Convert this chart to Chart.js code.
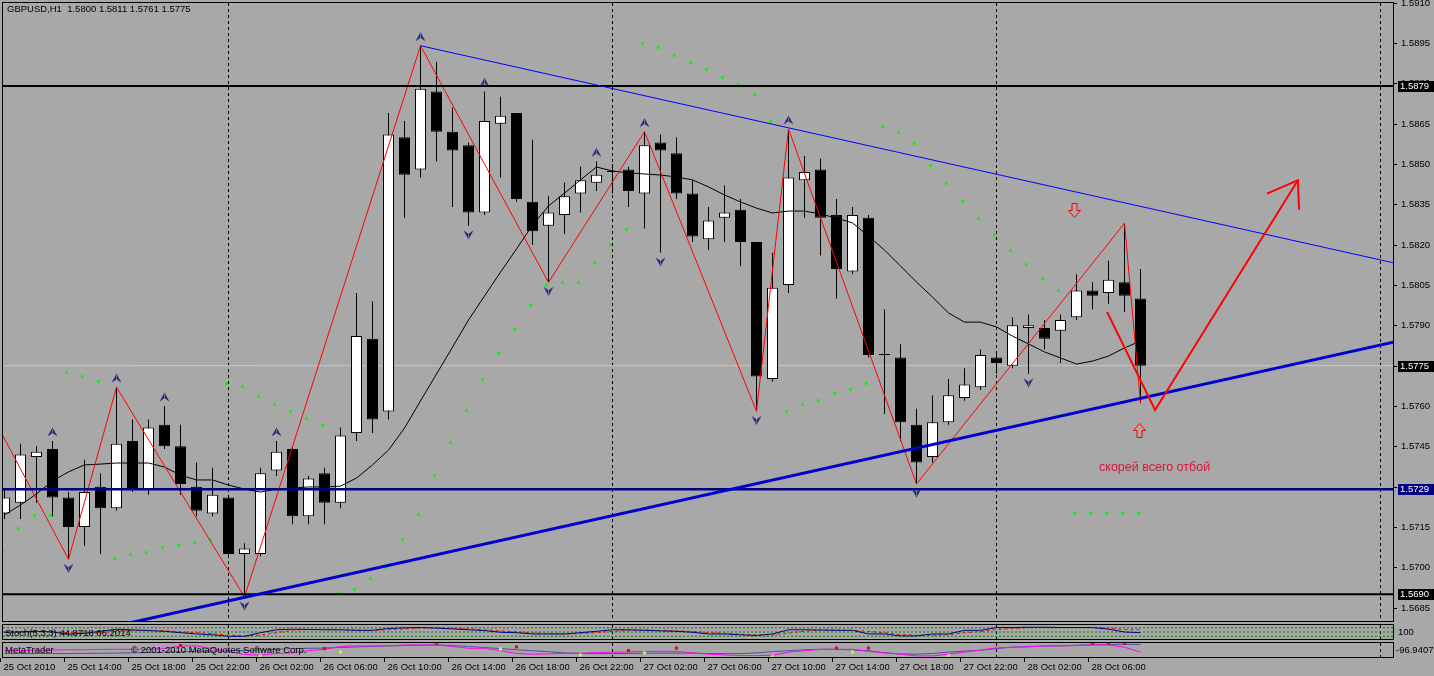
<!DOCTYPE html>
<html lang="ru"><head><meta charset="utf-8"><title>GBPUSD,H1</title>
<script src="https://cdn.jsdelivr.net/npm/chart.js@4.4.1/dist/chart.umd.min.js"></script>
<style>
html,body{margin:0;padding:0;background:#a8a8a8;width:1434px;height:676px;overflow:hidden}
#wrap{position:relative;width:1434px;height:676px;background:#a8a8a8}
canvas{position:absolute;left:0;display:block}
</style></head><body><div id="wrap">
<canvas id="cMain" width="1434" height="623" style="top:0px"></canvas>
<canvas id="cStoch" width="1434" height="18" style="top:623px"></canvas>
<canvas id="cOsc" width="1434" height="35" style="top:641px"></canvas>
</div>
<script>
// ---------------- DATA ----------------
const symbolLabel = 'GBPUSD,H1';
const openP = [1.5720,1.5724,1.5741,1.5744,1.5726,1.5715,1.5730,1.5722,1.5747,1.5729,
 1.5753,1.5745,1.5730,1.5720,1.5726,1.5705,1.5705,1.5736,1.5744,1.5719,
 1.5735,1.5724,1.5750,1.5785,1.5758,1.5860,1.5848,1.5877,1.5862,1.5857,
 1.5832,1.5865,1.5869,1.5836,1.5827,1.5831,1.5839,1.5843,1.5847,1.5848,
 1.5839,1.5858,1.5854,1.5839,1.5822,1.5830,1.5833,1.5821,1.5770,1.5805,
 1.5844,1.5848,1.5831,1.5810,1.5830,1.5779,1.5778,1.5753,1.5741,1.5754,
 1.5763,1.5767,1.5778,1.5775,1.5789,1.5789,1.5788,1.5793,1.5803,1.5802,
 1.5806,1.5800];
const highP = [1.5729,1.5746,1.5745,1.5747,1.5728,1.5740,1.5735,1.5767,1.5755,1.5755,
 1.5760,1.5753,1.5739,1.5737,1.5727,1.5709,1.5737,1.5747,1.5745,1.5734,
 1.5737,1.5752,1.5802,1.5799,1.5869,1.5866,1.5894,1.5888,1.5871,1.5858,
 1.5877,1.5875,1.5869,1.5859,1.5838,1.5843,1.5849,1.5851,1.5850,1.5849,
 1.5862,1.5861,1.5860,1.5844,1.5834,1.5842,1.5837,1.5821,1.5817,1.5863,
 1.5853,1.5852,1.5837,1.5834,1.5831,1.5796,1.5783,1.5759,1.5764,1.5770,
 1.5774,1.5781,1.5780,1.5793,1.5794,1.5792,1.5794,1.5809,1.5806,1.5814,
 1.5828,1.5811];
const lowP = [1.5718,1.5718,1.5724,1.5719,1.5703,1.5708,1.5705,1.5721,1.5728,1.5727,
 1.5744,1.5727,1.5719,1.5719,1.5704,1.5689,1.5704,1.5734,1.5716,1.5716,
 1.5716,1.5722,1.5747,1.5750,1.5755,1.5830,1.5845,1.5851,1.5834,1.5827,
 1.5831,1.5845,1.5836,1.5820,1.5806,1.5824,1.5832,1.5840,1.5839,1.5834,
 1.5826,1.5817,1.5837,1.5821,1.5818,1.5821,1.5812,1.5758,1.5769,1.5802,
 1.5830,1.5816,1.5800,1.5809,1.5778,1.5757,1.5747,1.5731,1.5739,1.5753,
 1.5762,1.5766,1.5772,1.5774,1.5772,1.5781,1.5776,1.5792,1.5796,1.5798,
 1.5795,1.5761];
const closeP = [1.5726,1.5742,1.5743,1.5726,1.5715,1.5728,1.5722,1.5746,1.5729,1.5752,
 1.5745,1.5731,1.5721,1.5727,1.5705,1.5707,1.5735,1.5743,1.5719,1.5733,
 1.5724,1.5749,1.5786,1.5755,1.5861,1.5846,1.5878,1.5862,1.5855,1.5832,
 1.5866,1.5868,1.5837,1.5825,1.5832,1.5838,1.5844,1.5846,1.5847,1.5840,
 1.5857,1.5855,1.5839,1.5823,1.5829,1.5832,1.5821,1.5771,1.5804,1.5845,
 1.5847,1.5830,1.5811,1.5831,1.5779,1.5779,1.5754,1.5739,1.5754,1.5764,
 1.5768,1.5779,1.5776,1.5790,1.5790,1.5785,1.5792,1.5803,1.5801,1.5807,
 1.5801,1.5775];
const maVals = [1.57195,1.57232,1.57273,1.57321,1.57355,1.57381,1.57384,1.57388,1.57388,1.57388,
 1.57373,1.57343,1.57325,1.57325,1.57306,1.57291,1.57280,1.57291,1.57295,1.57299,
 1.57299,1.57302,1.57332,1.57381,1.57436,1.57518,1.57619,1.57719,1.57819,1.57920,
 1.58009,1.58098,1.58184,1.58273,1.58344,1.58392,1.58441,1.58489,1.58474,1.58467,
 1.58463,1.58459,1.58452,1.58441,1.58415,1.58385,1.58359,1.58336,1.58318,1.58325,
 1.58325,1.58314,1.58299,1.58281,1.58232,1.58180,1.58121,1.58061,1.58005,1.57946,
 1.57912,1.57912,1.57894,1.57860,1.57831,1.57801,1.57779,1.57756,1.57767,1.57786,
 1.57816,1.57842];
const sarVals = [1.57064,1.57146,1.57191,1.57191,1.57723,1.57708,1.57693,1.57031,1.57046,1.57057,
 1.57072,1.57083,1.57094,1.57105,1.57682,1.57671,1.57637,1.57607,1.57581,1.57555,
 1.57529,1.56901,1.56916,1.56960,1.57001,1.57102,1.57198,1.57340,1.57466,1.57585,
 1.57697,1.57797,1.57886,1.57972,1.58050,1.58061,1.58061,1.58132,1.58199,1.58258,
 1.58950,1.58935,1.58905,1.58876,1.58850,1.58820,1.58794,1.58757,1.58660,1.57581,
 1.57604,1.57622,1.57645,1.57663,1.57682,1.58641,1.58619,1.58575,1.58496,1.58426,
 1.58359,1.58296,1.58236,1.58180,1.58128,1.58076,1.58031,1.57202,1.57202,1.57202,
 1.57202,1.57202];
const zzIdx   = [-1, 4, 7, 15, 26, 34, 40, 47, 49, 57, 70, 71];
const zzPrice = [1.5759,1.5703,1.5767,1.5689,1.5894,1.5806,1.5862,1.5758,1.5863,1.5731,1.5828,1.5761];
const fracUpIdx = [3, 7, 10, 17, 26, 30, 37, 40, 49];
const fracDnIdx = [4, 15, 29, 34, 41, 47, 57, 64];
const hLevels = [1.5879, 1.5729, 1.5690];
const hColors = ['#000000', '#000080', '#000000'];
const bidPrice = 1.5775;
const trendThinX = [26, 87],  trendThinY = [1.5894, 1.5813];
const trendThickX = [0, 87],  trendThickY = [1.5669, 1.5784];
const fcX = [68.91, 71.91, 80.84], fcY = [1.5795, 1.57585, 1.5844];
const headX = [78.91, 80.84, 80.91], headY = [1.5839, 1.5844, 1.5833];
const markDown = {x: 66.84, y: 1.5833};
const markUp   = {x: 70.91, y: 1.5751};
const noteText = 'скорей всего отбой';
const notePos  = {x: 71.88, y: 1.5737};
const priceTicks = [1.5910,1.5895,1.5880,1.5865,1.5850,1.5835,1.5820,1.5805,1.5790,1.5775,1.5760,1.5745,1.5730,1.5715,1.5700,1.5685];
const daySepIdx = [14, 38, 62, 86];
const timeIdx = [0,4,8,12,16,20,24,28,32,36,40,44,48,52,56,60,64,68];
const timeLabels = ['25 Oct 2010','25 Oct 14:00','25 Oct 18:00','25 Oct 22:00','26 Oct 02:00','26 Oct 06:00',
 '26 Oct 10:00','26 Oct 14:00','26 Oct 18:00','26 Oct 22:00','27 Oct 02:00','27 Oct 06:00','27 Oct 10:00',
 '27 Oct 14:00','27 Oct 18:00','27 Oct 22:00','28 Oct 02:00','28 Oct 06:00'];
const stochMain = [48,50,55,50,35,40,55,70,65,60,55,45,36,30,19,19,45,66,70,68,66,66,62,62,75,80,82,78,72,66,
 60,48,45,36,36,36,45,55,66,66,62,58,55,48,36,36,30,25,36,66,66,64,62,62,36,36,22,22,36,36,62,62,82,82,84,84,
 82,82,82,70,50,44.8718];
const stochSignal = [50,49,52,52,45,42,45,55,62,62,60,52,45,38,28,22,28,45,62,68,68,66,64,62,66,72,79,80,77,72,
 66,58,51,43,39,36,39,45,55,62,64,62,58,54,46,40,34,30,30,42,56,65,64,62,54,45,32,27,27,31,45,53,68,75,82,83,
 83,82,82,78,67,66.2014];
const stochLevels = [80, 50, 20];
const oscA = [45,45,48,50,52,52,54,55,55,55,60,79,79,60,40,18,14,25,30,45,55,75,79,79,80,86,86,86,75,62,
 62,45,25,20,22,27,27,32,34,36,40,41,40,30,20,15,10,10,12,35,45,55,55,55,40,30,20,8,8,20,35,50,65,70,72,79,
 79,82,86,86,70,35];
const oscB = [25,25,25,25,25,26,27,28,30,32,35,38,40,42,44,46,50,55,60,62,64,68,72,76,79,82,84,86,82,75,
 68,60,52,45,38,30,25,24,24,25,27,28,28,27,25,24,24,30,38,45,52,55,55,50,45,30,22,20,25,35,42,48,60,70,75,78,
 80,84,88,90,90,90];
const oscRedIdx = [11,20,27,32,39,42,52,54,68,69,70];
const oscRedVal = [82,60,98,72,46,64,64,64,98,98,98];
const oscGreenIdx = [16,21,31,36,40,48,53,59];
const oscGreenVal = [7,36,57,14,29,2,36,7];

// ---------------- LAYOUT CONSTANTS ----------------
const X_MIN = -0.09375, X_MAX = 86.78125;
const Y_MIN = 1.568004, Y_MAX = 1.590989;
const FONT = '"Liberation Sans", Arial, sans-serif';
const FS = 9.5;
const last = closeP.length - 1;
const barIdx = openP.map((_, i) => i);

function fractalImg(up) {
  const c = document.createElement('canvas'); c.width = 11; c.height = 28;
  const g = c.getContext('2d');
  g.fillStyle = '#262670';
  g.beginPath();
  if (up) { g.moveTo(0.5, 9.5); g.lineTo(5.5, 0.5); g.lineTo(10.5, 9.5); g.lineTo(5.5, 6); }
  else    { g.moveTo(0.5, 18.5); g.lineTo(5.5, 27.5); g.lineTo(10.5, 18.5); g.lineTo(5.5, 22); }
  g.closePath(); g.fill();
  g.strokeStyle = '#6a6aa8'; g.lineWidth = 1;
  g.beginPath();
  if (up) { g.moveTo(5.5, 2); g.lineTo(5.5, 6); } else { g.moveTo(5.5, 22); g.lineTo(5.5, 26); }
  g.stroke();
  return c;
}
function sarImg() {
  const c = document.createElement('canvas'); c.width = 7; c.height = 3;
  const g = c.getContext('2d'); g.fillStyle = '#00ff00'; g.fillRect(0, 0, 3, 3); return c;
}
function seg(xs, ys) { return xs.map((x, k) => ({x: x, y: ys[k]})); }
function hseg(v) { return [{x: X_MIN - 1, y: v}, {x: X_MAX + 1, y: v}]; }

function drawSeparators(chart) {
  const {ctx, chartArea: a, scales: {x}} = chart;
  ctx.save();
  ctx.strokeStyle = '#000'; ctx.lineWidth = 1; ctx.setLineDash([3, 3]);
  daySepIdx.forEach(i => {
    const px = Math.floor(x.getPixelForValue(i)) + 0.5;
    ctx.beginPath(); ctx.moveTo(px, a.top); ctx.lineTo(px, a.bottom); ctx.stroke();
  });
  ctx.restore();
}
function drawFrame(chart) {
  const {ctx, chartArea: a} = chart;
  ctx.save(); ctx.strokeStyle = '#000'; ctx.lineWidth = 1;
  ctx.strokeRect(a.left - 0.5, a.top - 0.5, a.right - a.left + 1, a.bottom - a.top + 1);
  ctx.restore();
}
function hollowArrow(ctx, cx, cy, down) {
  const s = down ? 1 : -1;
  ctx.beginPath();
  ctx.moveTo(cx - 2.5, cy - 7 * s);
  ctx.lineTo(cx + 2.5, cy - 7 * s);
  ctx.lineTo(cx + 2.5, cy);
  ctx.lineTo(cx + 6, cy);
  ctx.lineTo(cx, cy + 7 * s);
  ctx.lineTo(cx - 6, cy);
  ctx.lineTo(cx - 2.5, cy);
  ctx.closePath();
  ctx.stroke();
}

const mainDeco = {
  id: 'mainDeco',
  beforeDatasetsDraw(chart) { drawSeparators(chart); },
  afterDraw(chart) {
    const {ctx, chartArea: a, scales: {x, y}} = chart;
    drawFrame(chart);
    ctx.save();
    ctx.font = FS + 'px ' + FONT;
    ctx.textBaseline = 'middle';
    ctx.fillStyle = '#000';
    ctx.strokeStyle = '#000'; ctx.lineWidth = 1;
    // price scale: tick marks and labels from the y scale
    priceTicks.forEach(v => {
      const py = Math.round(y.getPixelForValue(v));
      ctx.beginPath(); ctx.moveTo(a.right, py + 0.5); ctx.lineTo(a.right + 4, py + 0.5); ctx.stroke();
      ctx.fillText(v.toFixed(4), a.right + 8, py + 0.5);
    });
    const hdr = symbolLabel + '  ' + [openP[last], highP[last], lowP[last], closeP[last]].map(v => v.toFixed(4)).join(' ');
    ctx.fillText(hdr, 7, 9);
    // price labels on the axis
    const boxes = hLevels.map((v, k) => ({v: v, c: hColors[k]})).concat([{v: bidPrice, c: '#000000'}]);
    boxes.forEach(b => {
      const py = Math.round(y.getPixelForValue(b.v));
      ctx.fillStyle = b.c; ctx.fillRect(1398, py - 5, 36, 11);
      ctx.fillStyle = '#ffffff'; ctx.fillText(b.v.toFixed(4), 1400, py + 0.5);
    });
    // hollow red arrows
    ctx.strokeStyle = '#ff0000'; ctx.lineWidth = 1;
    hollowArrow(ctx, Math.round(x.getPixelForValue(markDown.x)) + 0.5, Math.round(y.getPixelForValue(markDown.y)) + 0.5, true);
    hollowArrow(ctx, Math.round(x.getPixelForValue(markUp.x)) + 0.5, Math.round(y.getPixelForValue(markUp.y)) + 0.5, false);
    // note
    ctx.fillStyle = '#dc143c';
    ctx.font = '12.5px ' + FONT;
    ctx.textAlign = 'center';
    ctx.fillText(noteText, x.getPixelForValue(notePos.x), y.getPixelForValue(notePos.y));
    ctx.restore();
  }
};

const common = {
  responsive: false, animation: false, events: [],
  plugins: {legend: {display: false}, tooltip: {enabled: false}},
};

const upImg = fractalImg(true), dnImg = fractalImg(false), dotImg = sarImg();

new Chart(document.getElementById('cMain'), {
  type: 'line',
  data: {
    datasets: [
      {type: 'line', data: hseg(bidPrice), borderColor: '#c8c8c8', borderWidth: 1, pointRadius: 0, order: 20},
      {type: 'bar', data: barIdx.map(i => ({x: i, y: [lowP[i], highP[i]]})), backgroundColor: '#000', borderWidth: 0,
       barThickness: 1, grouped: false, inflateAmount: 0, order: 19},
      {type: 'bar', data: barIdx.map(i => ({x: i, y: [openP[i], closeP[i]]})),
       backgroundColor: barIdx.map(i => closeP[i] > openP[i] ? '#ffffff' : '#000000'),
       borderColor: '#000', borderWidth: 1, borderSkipped: false, minBarLength: 1,
       barThickness: 11, grouped: false, inflateAmount: 0, order: 18},
      {type: 'line', data: barIdx.map(i => ({x: i, y: maVals[i]})), borderColor: '#000', borderWidth: 1, pointRadius: 0, order: 15},
      {type: 'scatter', data: barIdx.map(i => ({x: i, y: sarVals[i]})), pointStyle: dotImg, pointRadius: 2, showLine: false, order: 14},
      {type: 'line', data: seg(zzIdx, zzPrice), borderColor: '#ff0000', borderWidth: 1, pointRadius: 0, order: 13},
      {type: 'line', data: hseg(hLevels[0]), borderColor: hColors[0], borderWidth: 2, pointRadius: 0, order: 12},
      {type: 'line', data: hseg(hLevels[1]), borderColor: hColors[1], borderWidth: 2.5, pointRadius: 0, order: 12},
      {type: 'line', data: hseg(hLevels[2]), borderColor: hColors[2], borderWidth: 2, pointRadius: 0, order: 12},
      {type: 'line', data: seg(trendThinX, trendThinY), borderColor: '#0000ff', borderWidth: 1, pointRadius: 0, order: 11},
      {type: 'line', data: seg(trendThickX, trendThickY), borderColor: '#0000d0', borderWidth: 3, pointRadius: 0, order: 11},
      {type: 'scatter', data: fracUpIdx.map(i => ({x: i, y: highP[i]})), pointStyle: upImg, pointRadius: 5, showLine: false, order: 10},
      {type: 'scatter', data: fracDnIdx.map(i => ({x: i, y: lowP[i]})), pointStyle: dnImg, pointRadius: 5, showLine: false, order: 10},
      {type: 'line', data: seg(fcX, fcY), borderColor: '#ff0000', borderWidth: 2, pointRadius: 0, order: 9},
      {type: 'line', data: seg(headX, headY), borderColor: '#ff0000', borderWidth: 2, pointRadius: 0, order: 9}
    ]
  },
  options: Object.assign({}, common, {
    layout: {autoPadding: false, padding: {left: 3, right: 41, top: 3, bottom: 2}},
    scales: {
      x: {type: 'linear', min: X_MIN, max: X_MAX, display: false, offset: false},
      y: {type: 'linear', position: 'right', min: Y_MIN, max: Y_MAX, display: false}
    }
  }),
  plugins: [mainDeco]
});

// ---------------- STOCH PANEL ----------------
const stochDeco = {
  id: 'stochDeco',
  beforeDatasetsDraw(chart) { drawSeparators(chart); },
  afterDraw(chart) {
    const {ctx} = chart;
    drawFrame(chart);
    ctx.save(); ctx.font = FS + 'px ' + FONT; ctx.textBaseline = 'middle'; ctx.fillStyle = '#000';
    ctx.fillText('Stoch(5,3,3) ' + stochMain[last].toFixed(4) + ' ' + stochSignal[last].toFixed(4), 5, 10);
    ctx.fillText('100', 1398, 9);
    ctx.restore();
  }
};
new Chart(document.getElementById('cStoch'), {
  type: 'line',
  data: {datasets: stochLevels.map(l => ({data: hseg(l), borderColor: '#008000', borderWidth: 1, borderDash: [2, 2], pointRadius: 0, order: 5}))
    .concat([
      {data: barIdx.map(i => ({x: i, y: stochSignal[i]})), borderColor: '#ff0000', borderWidth: 1, borderDash: [3, 3], pointRadius: 0, order: 2},
      {data: barIdx.map(i => ({x: i, y: stochMain[i]})), borderColor: '#00008b', borderWidth: 1, pointRadius: 0, order: 1}
    ])},
  options: Object.assign({}, common, {
    layout: {autoPadding: false, padding: {left: 3, right: 41, top: 2, bottom: 2}},
    scales: {x: {type: 'linear', min: X_MIN, max: X_MAX, display: false}, y: {min: 0, max: 100, display: false}}
  }),
  plugins: [stochDeco]
});

// ---------------- OSC PANEL + TIME AXIS ----------------
const oscDeco = {
  id: 'oscDeco',
  beforeDatasetsDraw(chart) { drawSeparators(chart); },
  afterDraw(chart) {
    const {ctx, scales: {x}} = chart;
    drawFrame(chart);
    ctx.save(); ctx.font = FS + 'px ' + FONT; ctx.textBaseline = 'middle'; ctx.fillStyle = '#000';
    ctx.fillText('MetaTrader', 5, 9);
    ctx.fillText('© 2001-2010 MetaQuotes Software Corp.', 131, 9);
    ctx.fillText('-96.9407', 1396, 9);
    ctx.strokeStyle = '#000'; ctx.lineWidth = 1;
    timeIdx.forEach((i, k) => {
      const px = x.getPixelForValue(i);
      const tx = Math.floor(px) - 4 + 0.5;
      ctx.beginPath(); ctx.moveTo(tx, 17); ctx.lineTo(tx, 21); ctx.stroke();
      ctx.fillText(timeLabels[k], px - 1, 26);
    });
    ctx.restore();
  }
};
new Chart(document.getElementById('cOsc'), {
  type: 'line',
  data: {datasets: [
    {data: barIdx.map(i => ({x: i, y: oscB[i]})), borderColor: '#5050a0', borderWidth: 1, pointRadius: 0, order: 4},
    {data: barIdx.map(i => ({x: i, y: oscA[i]})), borderColor: '#ff00ff', borderWidth: 1, pointRadius: 0, order: 3},
    {type: 'scatter', data: oscRedIdx.map((i, k) => ({x: i, y: oscRedVal[k]})), pointStyle: 'rect', pointRadius: 2.2,
     backgroundColor: '#ff0000', borderWidth: 0, order: 2},
    {type: 'scatter', data: oscGreenIdx.map((i, k) => ({x: i, y: oscGreenVal[k]})), pointStyle: 'rect', pointRadius: 2.2,
     backgroundColor: '#b0ff30', borderWidth: 0, order: 1}
  ]},
  options: Object.assign({}, common, {
    layout: {autoPadding: false, padding: {left: 3, right: 41, top: 2, bottom: 19}},
    scales: {x: {type: 'linear', min: X_MIN, max: X_MAX, display: false}, y: {min: 0, max: 100, display: false}}
  }),
  plugins: [oscDeco]
});
</script></body></html>
